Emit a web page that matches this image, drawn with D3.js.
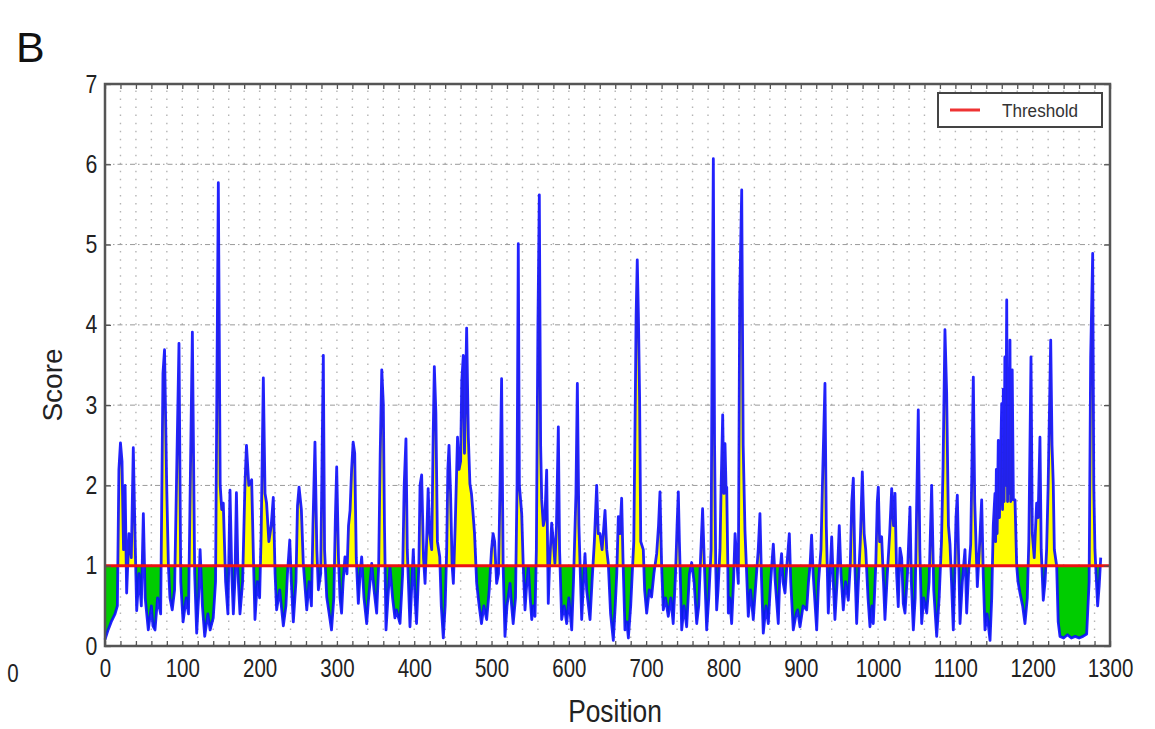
<!DOCTYPE html>
<html>
<head>
<meta charset="utf-8">
<script src="https://cdn.jsdelivr.net/npm/d3@7"></script>
<style>
body{margin:0;background:#fff;}
text{font-family:"Liberation Sans",Arial,sans-serif;}
</style>
</head>
<body>
<svg id="chart" width="1155" height="729"></svg>
<script>
// residue positions (x) and prediction scores (y)
var positions = [
  0,4,8,13,16,18,20,22,24,26,
  28,31,34,36.6,39,41,44,47,49.6,52,
  56,60,62,64.7,68,72,75,77,79.8,82,
  84,87,90,95.7,98,101,105,108,113,116,
  118.6,121,123,126,129,133,136,140,143,146.6,
  149,151,153,156,159,161.7,164,166,168,170,
  172,174.6,178,181,183,186,189.7,192,194,197,
  200,202,204.8,207,209,212,215,217.7,220,222,
  226,230.7,234,236,239,241,243.6,247,249,251,
  254,256.5,261,
  264,267,269,271.6,274,276,279,281,282.4,284,
  286.8,290,293,296,298,299.7,302,304,306,308,
  310.4,313,315,317,319,321,323,325,327.7,330,
  332,335,338.5,341,345,348,351.4,354,356,358,
  360,361.5,363.5,366,368.6,372,375,377,381.6,385,
  387,389.3,391,394.5,397,398.8,401,403,406,407.5,
  409.6,412,414,416,418,420,422.6,424.5,426,428,
  430,433,435,437.6,440,442,443.5,445,447,449,
  450.6,453,456,458,460,461.5,463.5,465,467.8,470,
  472,474,476.4,478,480.8,484,487,490,493.7,497,
  500,502,504,506.6,509,511,513,515,517.4,
  520,523.9,526,528,531,533,534.6,536,539,541,
  543.3,545,547.6,550,552,554,556.2,558,560,561.8,
  563.5,564.9,567,569,571.3,573.4,575,577.8,580,582,
  584,586.4,588,590.7,594,597.2,600,603.7,606,609.2,
  611,613,616.6,619,620.9,623,627.4,630,633,636,
  638,640.3,643,646.8,649,651,654,657.5,660,662,
  664,666,668.3,670,672.6,675,677,680,682,684,
  686,687,688.5,690,691.5,693,696.3,698,700.7,704,
  707,710,713.6,716,717.9,720,722.2,725,728.6,732,
  735,738,740,741.6,743,746,749,752.4,756,758.9,
  762,765.4,768,770,773,775,778.3,
  781,784,785.5,786.9,788.5,790,791.2,793,795.5,797,
  799,800.5,802,803.5,804.2,805.5,806.3,808,810.6,813,
  815,817,819.2,821,823.6,825.5,827.8,830,832.1,835,
  838.6,842,845,847.2,849,851.5,855,858,861,864.5,
  867,870.9,873,875.2,877,879.6,882,885.2,887,890.3,
  894,896,899,903,907.6,910,912,914,916,920.6,
  923,926.1,928,931.3,933,935.6,938,940,942,944.2,
  947,949.8,952,955,958,961.5,964,966,968,970,
  972.3,975,977,979.6,982,984,987,989.5,992,993.8,
  997,999,1000.3,1002,1004.6,1007,1008.9,1012,1015,1017.6,
  1020,1021.9,1024,1026.1,1028.3,1030.5,1032.6,1034.8,
  1038,1041.3,1043,1045.6,1048,1050,1052,1054,1056.4,1059,
  1062.9,1066,1069.3,1072,1075.8,1079,1082,1084,1086.5,1088.7,
  1091,1093,1095,1097.3,1099,1100.8,1102.5,1104,1106,1109,
  1112.4,1114.6,1117,1119.8,1121,1123.2,1125,1128.4,1131,1134,
  1136,1138.3,1141,1144.8,1147,1149,1151.2,1152,1153,1154,
  1155.5,1157,1159.9,1161,1162,1163,1164,1165,1166.4,1167.5,
  1168.5,1169.5,1170.6,1171.5,1172.5,1173.5,1175,1177.1,1179.3,1181,
  1183.6,1187,1190,1193,1195,1197.8,1199.5,1202,1205.1,1207,
  1209.4,1211,1213.7,1216,1218,1220,1223.3,1225,1226.6,1228,
  1231,1233,1235.3,1240,1245,1250,1255,1260,1265,1269.8,
  1273,1275,1277.6,1279,1280.5,1282,1284,1286,1288
];
var scores = [
  0.08,0.2,0.3,0.4,0.5,2.2,2.53,2.3,1.2,2.0,
  0.66,1.4,1.1,2.47,1.3,0.44,0.9,0.5,1.65,0.6,
  0.2,0.5,0.25,0.2,0.6,0.4,3.4,3.69,2.0,1.0,
  0.6,0.45,0.7,3.77,0.8,0.3,0.6,0.4,3.91,0.9,
  0.16,0.6,1.2,0.5,0.12,0.4,0.2,0.35,0.8,5.77,
  2.0,1.7,1.78,0.8,0.4,1.94,0.9,0.4,0.8,1.91,
  0.9,0.4,0.8,2.0,2.5,2.0,2.07,1.1,0.33,0.8,
  0.6,1.4,3.34,1.9,1.78,1.3,1.5,1.85,0.9,0.45,
  0.7,0.25,0.5,0.9,1.32,0.8,0.3,0.8,1.75,1.98,
  1.7,1.03,0.45,
  0.8,0.5,1.5,2.54,1.2,0.7,0.9,2.5,3.62,1.2,
  0.61,0.4,0.2,0.6,1.6,2.23,1.1,0.6,0.41,0.8,
  1.11,0.9,1.5,1.69,2.2,2.54,2.4,1.1,0.53,0.9,
  1.11,0.6,0.28,0.6,1.03,0.7,0.41,1.0,2.4,3.44,
  3.02,1.5,0.2,0.6,0.99,0.6,0.35,0.45,0.28,0.9,
  2.0,2.58,1.2,0.24,0.8,1.2,0.6,0.28,1.0,2.0,
  2.13,1.1,0.78,1.3,1.96,1.4,1.2,2.6,3.48,2.9,
  1.3,1.11,0.5,0.1,0.5,1.2,2.2,2.5,1.9,1.0,
  0.78,1.5,2.6,2.2,2.3,3.3,3.62,2.4,3.96,2.6,
  2.02,1.9,1.61,1.4,0.78,0.5,0.28,0.5,0.33,0.7,
  1.2,1.4,1.3,0.78,0.9,2.0,3.33,1.0,0.12,
  0.5,0.78,0.5,0.28,0.6,2.0,5.01,2.0,1.65,1.0,
  0.45,0.7,0.99,0.6,0.33,0.5,0.37,1.2,4.0,5.62,
  2.5,1.82,1.5,1.6,2.19,0.53,1.0,1.53,1.3,1.03,
  1.5,2.73,1.2,0.33,0.5,0.28,0.6,0.2,0.8,1.9,
  3.27,1.5,0.33,0.8,1.15,0.7,0.33,0.8,1.3,2.0,
  1.4,1.4,1.2,1.69,1.2,1.03,0.4,0.07,0.5,0.9,
  1.61,1.4,1.84,1.1,0.2,0.3,0.1,0.5,0.9,1.3,
  3.1,4.1,4.81,4.1,3.1,1.3,1.2,0.7,0.41,0.7,
  0.61,0.9,1.15,1.5,1.92,1.0,0.45,0.6,0.37,0.6,
  0.28,0.9,1.5,1.92,1.3,0.2,0.5,0.24,0.9,1.04,
  0.8,0.28,0.5,1.0,1.71,1.1,0.2,
  0.6,1.2,4.0,6.07,2.5,1.0,0.45,0.7,1.2,2.0,
  2.88,1.9,2.52,1.9,1.98,1.1,0.41,0.6,0.28,0.8,
  1.4,1.1,0.78,4.31,5.68,2.5,1.44,0.9,0.37,0.7,
  0.33,0.8,1.2,1.65,0.9,0.16,0.5,0.28,0.8,1.27,
  0.8,0.28,0.9,1.15,0.8,0.66,1.0,1.4,0.8,0.2,
  0.4,0.45,0.24,0.5,0.45,0.8,1.0,1.38,0.9,0.2,
  0.8,1.2,2.0,3.27,1.5,0.41,0.9,1.36,0.8,0.33,
  0.8,1.5,0.9,0.45,0.8,0.57,1.0,1.8,2.09,1.0,
  0.28,0.9,1.3,2.17,1.4,1.2,0.6,0.24,0.5,0.28,
  1.0,1.8,1.98,1.3,1.36,0.8,0.33,0.9,1.4,1.96,
  1.5,1.9,0.9,0.49,1.22,1.1,0.53,0.41,
  0.9,1.73,0.8,0.2,0.6,1.8,2.94,1.2,0.28,0.6,
  0.41,0.8,2.0,0.7,0.12,0.6,1.3,2.2,3.94,3.15,
  1.5,1.27,0.8,0.2,0.8,1.6,1.88,1.2,0.28,0.8,
  1.2,0.41,0.9,1.27,2.0,3.35,1.8,0.74,1.2,1.82,
  0.9,0.2,0.4,0.07,0.6,1.5,1.9,1.3,2.2,1.4,
  2.56,1.6,3.02,1.7,3.2,1.8,3.6,2.0,4.31,1.8,
  3.0,1.9,3.81,1.8,3.0,3.44,1.82,1.82,1.0,0.8,
  0.66,0.5,0.28,0.6,1.3,3.6,1.4,1.1,1.78,1.6,
  2.6,1.2,0.57,0.8,1.2,2.0,3.81,2.5,2.02,1.2,
  1.0,0.3,0.12,0.1,0.14,0.1,0.12,0.1,0.12,0.15,
  0.8,3.6,4.89,2.0,1.2,0.9,0.5,0.75,1.1
];
var threshold = 1;
var xTicks = d3.range(0, 1301, 100);
var yTicks = [0, 1, 2, 3, 4, 5, 6, 7];
var xMinor = d3.range(0, 1301, 20);
var legendLabel = "Threshold";

var svg = d3.select("#chart");
var x = d3.scaleLinear().domain([0, 1300]).range([105, 1110]);
var y = d3.scaleLinear().domain([0, 7]).range([646, 84]);

var data = positions.map(function (p, i) {
    return {pos: p, score: scores[i]};
});

// clip regions above / below threshold
var defs = svg.append("defs");
defs.append("clipPath").attr("id", "above").append("rect")
    .attr("x", x(0)).attr("y", y(7))
    .attr("width", x(1300) - x(0)).attr("height", y(threshold) - y(7));
defs.append("clipPath").attr("id", "below").append("rect")
    .attr("x", x(0)).attr("y", y(threshold))
    .attr("width", x(1300) - x(0)).attr("height", y(0) - y(threshold));

// dotted minor grid
var step = y(0) - y(0.1);
svg.append("g").selectAll("line")
    .data(xMinor.filter(function (d) { return d > 0 && d < 1300; }))
    .enter().append("line")
    .attr("x1", function (d) { return x(d); })
    .attr("x2", function (d) { return x(d); })
    .attr("y1", y(0)).attr("y2", y(7))
    .attr("stroke", "#b4b4b4")
    .attr("stroke-width", 1.4)
    .attr("stroke-dasharray", "1.5," + (step - 1.5));

// dash-dot major grid
svg.append("g").selectAll("line")
    .data(yTicks.filter(function (d) { return d > 0 && d < 7; }))
    .enter().append("line")
    .attr("x1", x(0)).attr("x2", x(1300))
    .attr("y1", function (d) { return y(d); })
    .attr("y2", function (d) { return y(d); })
    .attr("stroke", "#9a9a9a")
    .attr("stroke-width", 1)
    .attr("stroke-dasharray", "5,3,1.5,3");

var area = d3.area()
    .x(function (d) { return x(d.pos); })
    .y0(y(threshold))
    .y1(function (d) { return y(d.score); });

svg.append("path").datum(data)
    .attr("d", area)
    .attr("fill", "#ffff00")
    .attr("clip-path", "url(#above)");
svg.append("path").datum(data)
    .attr("d", area)
    .attr("fill", "#00cc00")
    .attr("clip-path", "url(#below)");

var line = d3.line()
    .x(function (d) { return x(d.pos); })
    .y(function (d) { return y(d.score); });

svg.append("path").datum(data)
    .attr("d", line)
    .attr("fill", "none")
    .attr("stroke", "#0a0aff")
    .attr("stroke-opacity", 0.9)
    .attr("stroke-width", 2.8)
    .attr("stroke-linejoin", "round");

// threshold line
svg.append("line")
    .attr("x1", x(0)).attr("x2", x(1300))
    .attr("y1", y(threshold)).attr("y2", y(threshold))
    .attr("stroke", "#ee1111")
    .attr("stroke-width", 3);

// inward ticks
function noDomain(g) { g.select(".domain").remove(); }
svg.append("g").attr("transform", "translate(0," + y(0) + ")")
    .call(d3.axisBottom(x).tickValues(xMinor).tickSize(-5).tickFormat(""))
    .call(noDomain);
svg.append("g").attr("transform", "translate(0," + y(7) + ")")
    .call(d3.axisTop(x).tickValues(xMinor).tickSize(-5).tickFormat(""))
    .call(noDomain);
svg.append("g").attr("transform", "translate(" + x(0) + ",0)")
    .call(d3.axisLeft(y).tickValues(yTicks).tickSize(-6).tickFormat(""))
    .call(noDomain);
svg.append("g").attr("transform", "translate(" + x(1300) + ",0)")
    .call(d3.axisRight(y).tickValues(yTicks).tickSize(-6).tickFormat(""))
    .call(noDomain);
svg.selectAll(".tick line").attr("stroke", "#555").attr("stroke-width", 1.3);

// tick labels
var xAxis = svg.append("g").attr("transform", "translate(0," + y(0) + ")")
    .call(d3.axisBottom(x).tickValues(xTicks).tickSize(0).tickPadding(13)
        .tickFormat(d3.format("d")))
    .call(noDomain);
xAxis.selectAll("text")
    .attr("font-size", 25).attr("fill", "#222")
    .attr("font-family", "Liberation Sans, Arial, sans-serif")
    .attr("transform", "scale(0.82,1)");

var yAxis = svg.append("g").attr("transform", "translate(" + x(0) + ",0)")
    .call(d3.axisLeft(y).tickValues(yTicks).tickSize(0).tickPadding(9)
        .tickFormat(d3.format("d")))
    .call(noDomain);
yAxis.selectAll("text")
    .attr("font-size", 25).attr("fill", "#222")
    .attr("font-family", "Liberation Sans, Arial, sans-serif")
    .attr("transform", "scale(0.85,1)");

// frame
svg.append("rect")
    .attr("x", x(0)).attr("y", y(7))
    .attr("width", x(1300) - x(0)).attr("height", y(0) - y(7))
    .attr("fill", "none").attr("stroke", "#555").attr("stroke-width", 2.5);

// legend
var lg = svg.append("g").attr("transform", "translate(938,93)");
lg.append("rect").attr("width", 164).attr("height", 34)
    .attr("fill", "#fff").attr("stroke", "#444").attr("stroke-width", 2);
lg.append("line").attr("x1", 12).attr("x2", 42).attr("y1", 17).attr("y2", 17)
    .attr("stroke", "#e33").attr("stroke-width", 3);
lg.append("text").attr("x", 64).attr("y", 24)
    .attr("font-size", 19).attr("fill", "#333")
    .attr("transform", "scale(0.9,1)").attr("transform-origin", "64 0")
    .text(legendLabel);

// axis titles and panel letter
svg.append("text")
    .attr("transform", "translate(62,385) rotate(-90)")
    .attr("text-anchor", "middle")
    .attr("font-size", 28).attr("fill", "#222")
    .text("Score");
svg.append("text")
    .attr("x", 0).attr("y", 0)
    .attr("transform", "translate(615,722) scale(0.85,1)")
    .attr("text-anchor", "middle")
    .attr("font-size", 31).attr("fill", "#222")
    .text("Position");
svg.append("text")
    .attr("x", 16).attr("y", 62)
    .attr("font-size", 43).attr("fill", "#111")
    .text("B");
svg.append("text")
    .attr("transform", "translate(13,682) scale(0.82,1)")
    .attr("text-anchor", "middle")
    .attr("font-size", 25).attr("fill", "#222")
    .text("0");
</script>
</body>
</html>
